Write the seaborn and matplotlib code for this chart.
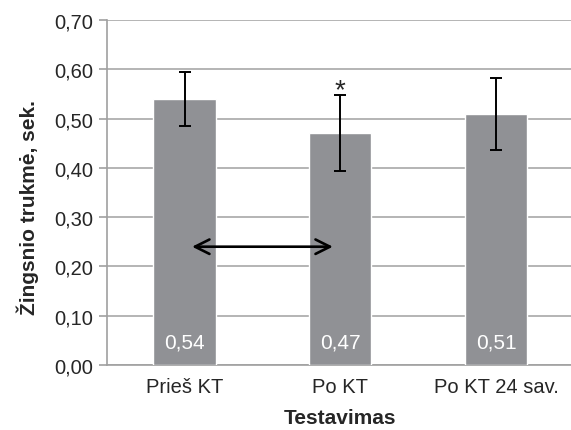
import matplotlib
matplotlib.use("Agg")
import matplotlib.pyplot as plt
import seaborn as sns
import pandas as pd

categories = ["Prieš KT", "Po KT", "Po KT 24 sav."]
values = [0.54, 0.47, 0.51]
errors = [0.055, 0.077, 0.073]
value_labels = ["0,54", "0,47", "0,51"]
yticks = [0.0, 0.1, 0.2, 0.3, 0.4, 0.5, 0.6, 0.7]
ytick_labels = ["0,00", "0,10", "0,20", "0,30", "0,40", "0,50", "0,60", "0,70"]

sns.set_style("white")
plt.rcParams['font.family'] = ['Liberation Sans', 'DejaVu Sans']

df = pd.DataFrame({"cat": categories, "val": values})
fig = plt.figure(figsize=(5.71, 4.31), dpi=100)
ax = fig.add_axes([0.187, 0.151, 0.818, 0.800])
sns.barplot(data=df, x="cat", y="val", color="#909195", saturation=1, width=0.4, ax=ax, zorder=3)
ax.errorbar(range(len(values)), values, yerr=errors, fmt="none", ecolor="black",
            elinewidth=1.4, capsize=4, capthick=1.4, zorder=4)
for i, (v, lab) in enumerate(zip(values, value_labels)):
    ax.text(i, 0.047, lab, ha="center", va="center", color="white", fontsize=15, zorder=5)
ax.text(1, values[1] + errors[1] + 0.01, "*", ha="center", va="center", fontsize=20, zorder=5)
ax.annotate("", xy=(0.97, 0.24), xytext=(0.03, 0.24),
            arrowprops=dict(arrowstyle="<->", color="black", lw=1.9, mutation_scale=26), zorder=6)

ax.set_ylim(0, 0.7)
ax.set_xlim(-0.5, 2.5)
ax.set_yticks(yticks)
ax.set_yticklabels(ytick_labels, fontsize=14.5)
ax.tick_params(axis="x", labelsize=14.5, length=0, pad=9)
ax.tick_params(axis="y", length=6, color="#a0a0a0", width=1.2, pad=4, left=True)
ax.yaxis.grid(True, color="#a8a8a8", linewidth=1.2, zorder=0)
ax.set_axisbelow(True)
for s in ["top", "right"]:
    ax.spines[s].set_visible(False)
for s in ["left", "bottom"]:
    ax.spines[s].set_color("#a0a0a0")
    ax.spines[s].set_linewidth(1.2)
ax.set_xlabel("Testavimas", fontsize=15, fontweight="bold")
ax.set_ylabel("Žingsnio trukmė, sek.", fontsize=15, fontweight="bold")
ax.xaxis.set_label_coords(0.5, -0.125)
ax.yaxis.set_label_coords(-0.146, 0.46)
fig.savefig("out.png", dpi=100)
